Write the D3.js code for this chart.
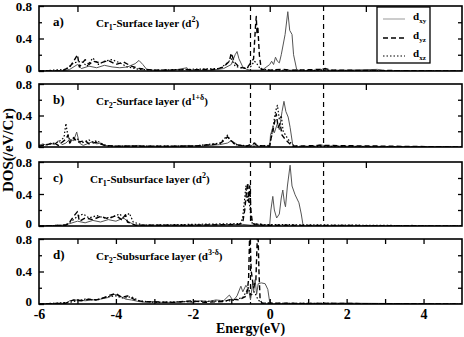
<!DOCTYPE html>
<html><head><meta charset="utf-8">
<script src="https://cdn.jsdelivr.net/npm/d3@7"></script>
<style>body{margin:0;background:#fff}svg{display:block}text{font-family:"Liberation Serif","Times New Roman",serif;font-weight:bold}</style>
</head><body>
<script>
// ---- data ----
const energyDomain = [-6, 5];
const dosDomain = [0, 0.8];
const xTickLabels = [-6, -4, -2, 0, 2, 4];
const yTickLabels = [0, 0.4, 0.8];
const refLines = [-0.5, 1.4];
const panelLetters = ["a)", "b)", "c)", "d)"];
const panelTitles = [
  ["Cr", "1", "-Surface layer (d", "2", ")"],
  ["Cr", "2", "-Surface layer (d", "1+δ", ")"],
  ["Cr", "1", "-Subsurface layer (d", "2", ")"],
  ["Cr", "2", "-Subsurface layer (d", "3-δ", ")"]
];
const seriesNames = ["xy", "yz", "xz"];

const aXY = [[-6,0],[-5.4,0],[-5.2,0.02],[-5.0,0.08],[-4.9,0.03],[-4.7,0.06],[-4.5,0.04],[-4.3,0.07],[-4.1,0.05],[-3.9,0.04],[-3.7,0.05],[-3.5,0.09],[-3.4,0.13],[-3.3,0.08],[-3.2,0.02],[-3.0,0.01],[-2.5,0.01],[-2.15,0.04],[-2.1,0.01],[-1.5,0.01],[-1.2,0.03],[-1.0,0.08],[-0.9,0.2],[-0.85,0.24],[-0.8,0.15],[-0.7,0.05],[-0.6,0.02],[-0.5,0.01],[-0.2,0.01],[0.0,0.08],[0.05,0.12],[0.1,0.08],[0.15,0.17],[0.2,0.12],[0.25,0.1],[0.3,0.2],[0.4,0.45],[0.47,0.73],[0.52,0.5],[0.58,0.45],[0.62,0.2],[0.7,0.02],[0.8,0],[1.3,0.01],[1.4,0.03],[1.5,0.01],[2.0,0.01],[2.8,0.02],[3.0,0],[5,0]];
const aYZ = [[-6,0],[-5.4,0],[-5.2,0.05],[-5.1,0.12],[-5.0,0.2],[-4.95,0.05],[-4.8,0.14],[-4.7,0.08],[-4.6,0.12],[-4.4,0.1],[-4.2,0.13],[-4.0,0.08],[-3.8,0.11],[-3.6,0.06],[-3.4,0.03],[-3.0,0.01],[-1.4,0.02],[-1.2,0.05],[-1.05,0.12],[-1.0,0.22],[-0.95,0.15],[-0.9,0.1],[-0.8,0.05],[-0.6,0.03],[-0.42,0.15],[-0.37,0.55],[-0.35,0.67],[-0.33,0.45],[-0.31,0.55],[-0.27,0.2],[-0.22,0.02],[0,0.01],[0.3,0.02],[0.6,0.01],[1.3,0.02],[1.45,0.03],[1.6,0.01],[5,0]];
const aXZ = [[-6,0],[-5.3,0.02],[-5.1,0.1],[-4.9,0.12],[-4.75,0.06],[-4.6,0.16],[-4.45,0.08],[-4.3,0.12],[-4.1,0.14],[-3.9,0.1],[-3.7,0.05],[-3.4,0.02],[-3.0,0.01],[-1.3,0.03],[-1.1,0.1],[-1.0,0.15],[-0.9,0.06],[-0.7,0.03],[-0.5,0.05],[-0.4,0.12],[-0.35,0.1],[-0.25,0.03],[0,0.01],[5,0]];

const bXY = [[-6,0.02],[-5.9,0.04],[-5.8,0.02],[-5.7,0.05],[-5.6,0.03],[-5.5,0.08],[-5.4,0.03],[-5.3,0.05],[-5.2,0.1],[-5.1,0.08],[-5.02,0.19],[-4.95,0.05],[-4.85,0.02],[-4.7,0.05],[-4.6,0.07],[-4.5,0.04],[-4.4,0.05],[-4.3,0.02],[-4,0.01],[-3.4,0.02],[-3.3,0.01],[-2.5,0.01],[-2.1,0.02],[-1.8,0.01],[-1.3,0.03],[-1.1,0.05],[-1,0.08],[-0.9,0.05],[-0.8,0.02],[-0.5,0.01],[-0.37,0.05],[-0.3,0.01],[0,0.01],[0.02,0.15],[0.08,0.25],[0.12,0.18],[0.2,0.3],[0.25,0.22],[0.32,0.45],[0.37,0.58],[0.42,0.45],[0.48,0.38],[0.53,0.25],[0.6,0.02],[0.7,0],[1.2,0.01],[1.3,0.03],[1.4,0.02],[1.6,0.01],[2.2,0.01],[5,0]];
const bYZ = [[-6,0.01],[-5.8,0.03],[-5.6,0.05],[-5.5,0.02],[-5.4,0.06],[-5.3,0.1],[-5.25,0.15],[-5.2,0.05],[-5.1,0.12],[-5,0.06],[-4.8,0.08],[-4.7,0.04],[-4.5,0.06],[-4.3,0.02],[-4,0.01],[-2,0.01],[-1.3,0.04],[-1.15,0.1],[-1.1,0.13],[-1.0,0.08],[-0.9,0.03],[-0.6,0.01],[-0.4,0.05],[-0.35,0.02],[0,0.01],[0.03,0.1],[0.08,0.2],[0.12,0.3],[0.17,0.42],[0.22,0.25],[0.27,0.3],[0.32,0.15],[0.4,0.1],[0.5,0.05],[0.6,0.01],[1.3,0.02],[5,0]];
const bXZ = [[-6,0.02],[-5.7,0.04],[-5.5,0.06],[-5.35,0.12],[-5.3,0.3],[-5.27,0.2],[-5.2,0.08],[-5.0,0.1],[-4.9,0.05],[-4.7,0.09],[-4.6,0.06],[-4.5,0.08],[-4.35,0.04],[-4.2,0.01],[-2,0.01],[-1.3,0.05],[-1.15,0.12],[-1.1,0.15],[-1.05,0.1],[-0.9,0.03],[-0.5,0.01],[0,0.02],[0.05,0.15],[0.1,0.3],[0.15,0.45],[0.2,0.53],[0.25,0.35],[0.3,0.4],[0.35,0.2],[0.45,0.12],[0.55,0.05],[0.65,0.01],[5,0]];

const cXY = [[-6,0],[-5.4,0.01],[-5.2,0.03],[-5.0,0.06],[-4.8,0.04],[-4.6,0.07],[-4.4,0.05],[-4.2,0.08],[-4.0,0.06],[-3.8,0.1],[-3.7,0.06],[-3.5,0.01],[-3,0.01],[-2,0.01],[-0.7,0.02],[-0.5,0.01],[-0.1,0.01],[0,0.02],[0.03,0.2],[0.08,0.37],[0.12,0.2],[0.18,0.1],[0.25,0.15],[0.3,0.35],[0.34,0.45],[0.38,0.3],[0.41,0.24],[0.46,0.5],[0.53,0.76],[0.58,0.5],[0.66,0.39],[0.76,0.29],[0.82,0.15],[0.87,0],[3.6,0],[3.7,0.01],[3.8,0],[5,0]];
const cYZ = [[-6,0],[-5.3,0.01],[-5.2,0.05],[-5.1,0.12],[-5.0,0.18],[-4.95,0.06],[-4.8,0.1],[-4.6,0.08],[-4.4,0.12],[-4.2,0.09],[-4.0,0.13],[-3.85,0.08],[-3.75,0.14],[-3.7,0.05],[-3.5,0.01],[-2,0.01],[-0.8,0.02],[-0.7,0.05],[-0.65,0.2],[-0.6,0.45],[-0.57,0.54],[-0.55,0.3],[-0.52,0.5],[-0.49,0.2],[-0.45,0.03],[-0.35,0.02],[-0.3,0.04],[-0.2,0.01],[5,0]];
const cXZ = [[-6,0],[-5.3,0.01],[-5.1,0.08],[-5.0,0.12],[-4.85,0.15],[-4.7,0.1],[-4.5,0.13],[-4.3,0.1],[-4.1,0.11],[-3.9,0.15],[-3.8,0.1],[-3.65,0.16],[-3.55,0.05],[-3.3,0.01],[-0.75,0.03],[-0.7,0.12],[-0.65,0.35],[-0.62,0.5],[-0.58,0.3],[-0.55,0.42],[-0.5,0.15],[-0.45,0.02],[5,0]];

const dXY = [[-6,0],[-5.3,0.01],[-5.2,0.04],[-5.0,0.05],[-4.8,0.04],[-4.6,0.05],[-4.4,0.06],[-4.2,0.08],[-4.05,0.12],[-3.9,0.1],[-3.75,0.06],[-3.6,0.05],[-3.4,0.03],[-3.2,0.02],[-3.0,0.03],[-2.8,0.02],[-2.5,0.02],[-2.2,0.03],[-2.0,0.02],[-1.8,0.04],[-1.6,0.03],[-1.4,0.05],[-1.2,0.04],[-1.05,0.11],[-0.95,0.04],[-0.85,0.1],[-0.75,0.22],[-0.7,0.15],[-0.62,0.23],[-0.55,0.18],[-0.5,0.05],[-0.45,0.25],[-0.42,0.15],[-0.38,0.3],[-0.34,0.12],[-0.3,0.25],[-0.22,0.26],[-0.12,0.25],[-0.05,0.18],[0,0.02],[0.1,0],[1.6,0.01],[2,0.01],[5,0]];
const dYZ = [[-6,0],[-5.3,0.01],[-5.1,0.05],[-4.9,0.04],[-4.7,0.06],[-4.5,0.05],[-4.3,0.08],[-4.15,0.11],[-4.0,0.13],[-3.85,0.08],[-3.7,0.1],[-3.5,0.05],[-3.3,0.03],[-2.5,0.02],[-2.0,0.04],[-1.7,0.02],[-1.2,0.03],[-1.0,0.06],[-0.8,0.05],[-0.6,0.1],[-0.55,0.3],[-0.52,0.9],[-0.48,0.4],[-0.42,0.2],[-0.36,0.3],[-0.31,1.0],[-0.28,0.4],[-0.25,0.05],[-0.2,0.01],[5,0]];
const dXZ = [[-6,0],[-5.2,0.02],[-5.0,0.04],[-4.8,0.06],[-4.5,0.05],[-4.2,0.09],[-4.0,0.1],[-3.8,0.07],[-3.6,0.09],[-3.4,0.04],[-3,0.02],[-1,0.04],[-0.7,0.08],[-0.55,0.2],[-0.5,0.1],[-0.4,0.15],[-0.3,0.05],[-0.2,0.01],[5,0]];

const panelData = [[aXY, aYZ, aXZ], [bXY, bYZ, bXZ], [cXY, cYZ, cXZ], [dXY, dYZ, dXZ]];

// ---- layout / style ----
const W = 464, H = 337;
const left = 39, right = 462;
const panelBounds = [[6, 71], [84, 147], [162, 226], [239, 304]];
const styles = [
  {stroke: "#555", width: 1, dash: null},
  {stroke: "#000", width: 1.4, dash: "5,3"},
  {stroke: "#000", width: 1.2, dash: "1.5,2"}
];

const svg = d3.select("body").append("svg").attr("width", W).attr("height", H);
const x = d3.scaleLinear().domain(energyDomain).range([left, right]);

panelBounds.forEach(([top, bottom], i) => {
  const y = d3.scaleLinear().domain(dosDomain).range([bottom, top]);
  const g = svg.append("g");
  const clipId = "clip" + i;
  svg.append("clipPath").attr("id", clipId).append("rect")
    .attr("x", left).attr("y", top).attr("width", right - left).attr("height", bottom - top);

  // reference lines
  g.selectAll("line.ref").data(refLines).join("line")
    .attr("x1", d => x(d)).attr("x2", d => x(d)).attr("y1", top).attr("y2", bottom)
    .attr("stroke", "#000").attr("stroke-width", 1.2).attr("stroke-dasharray", "5,4");

  // data
  const line = d3.line().x(d => x(d[0])).y(d => y(d[1]));
  const dg = g.append("g").attr("clip-path", `url(#${clipId})`);
  panelData[i].forEach((s, k) => {
    dg.append("path").datum(s).attr("d", line).attr("fill", "none")
      .attr("stroke", styles[k].stroke).attr("stroke-width", styles[k].width)
      .attr("stroke-dasharray", styles[k].dash).attr("stroke-linejoin", "round");
  });

  // y axes (left labeled, right ticks only)
  const yl = d3.axisLeft(y).tickValues(yTickLabels).tickSize(-5).tickPadding(7)
    .tickFormat(d => d === 0 ? "0" : d3.format(".1f")(d));
  const yAx = g.append("g").attr("transform", `translate(${left},0)`).call(yl);
  yAx.select(".domain").remove();
  yAx.selectAll("text").attr("font-size", 13).attr("fill", "#000")
    .style("font-family", "'Liberation Serif',serif").style("font-weight", "bold")
    .attr("dy", d => d === 0 ? "0.1em" : "0.32em");
  yAx.selectAll("line").attr("stroke-width", 1.3);
  const ym = d3.axisLeft(y).tickValues([0.2, 0.6]).tickSize(-3).tickFormat("");
  const yMn = g.append("g").attr("transform", `translate(${left},0)`).call(ym);
  yMn.select(".domain").remove();
  yMn.selectAll("line").attr("stroke-width", 1.3);
  const yr = d3.axisRight(y).tickValues([0.2, 0.4, 0.6]).tickSize(-4).tickFormat("");
  const yR = g.append("g").attr("transform", `translate(${right},0)`).call(yr);
  yR.select(".domain").remove();
  yR.selectAll("line").attr("stroke-width", 1.3);

  // top ticks
  const topTicks = i < 3 ? [-5, -2.5, 0, 2.5] : d3.range(-5, 5, 1);
  const xt = d3.axisTop(x).tickValues(topTicks).tickSize(i < 3 ? -6 : -5).tickFormat("");
  const xT = g.append("g").attr("transform", `translate(0,${top})`).call(xt);
  xT.select(".domain").remove();
  xT.selectAll("line").attr("stroke-width", 1.3);

  if (i === 3) {
    const xbMinor = d3.axisBottom(x).tickValues(d3.range(-5, 5, 1)).tickSize(-5).tickFormat("");
    const xBm = g.append("g").attr("transform", `translate(0,${bottom})`).call(xbMinor);
    xBm.select(".domain").remove();
    xBm.selectAll("line").attr("stroke-width", 1.3);
    const xb = d3.axisBottom(x).tickValues(xTickLabels).tickSize(0).tickPadding(5)
      .tickFormat(d3.format("d"));
    const xB = g.append("g").attr("transform", `translate(0,${bottom})`).call(xb);
    xB.select(".domain").remove();
    xB.selectAll("text").attr("font-size", 14).attr("fill", "#000")
      .style("font-family", "'Liberation Serif',serif").style("font-weight", "bold")
      .text(d => d < 0 ? "-" + Math.abs(d) : d);
  }

  // frame
  g.append("rect").attr("x", left).attr("y", top).attr("width", right - left).attr("height", bottom - top)
    .attr("fill", "none").attr("stroke", "#000").attr("stroke-width", 1.6);

  // panel letter and title
  g.append("text").attr("x", 53).attr("y", top + 20).attr("font-size", 13).text(panelLetters[i]);
  const t = panelTitles[i];
  const tt = g.append("text").attr("x", i === 2 ? 90 : 96).attr("y", top + 21).attr("font-size", 11);
  tt.append("tspan").text(t[0]);
  tt.append("tspan").attr("dy", 3).attr("font-size", 8).text(t[1]);
  tt.append("tspan").attr("dy", -3).text(t[2]);
  tt.append("tspan").attr("dy", -5).attr("font-size", 8).text(t[3]);
  tt.append("tspan").attr("dy", 5).text(t[4]);
});

// legend
const lg = svg.append("g");
lg.append("rect").attr("x", 377).attr("y", 7).attr("width", 53).attr("height", 56)
  .attr("fill", "#fff").attr("stroke", "#000").attr("stroke-width", 1.3);
const legendY = [19, 38, 56];
seriesNames.forEach((n, k) => {
  lg.append("line").attr("x1", 383).attr("x2", 405).attr("y1", legendY[k]).attr("y2", legendY[k])
    .attr("stroke", k === 0 ? "#999" : "#000").attr("stroke-width", styles[k].width)
    .attr("stroke-dasharray", styles[k].dash);
  const tx = lg.append("text").attr("x", 413).attr("y", legendY[k] + 1).attr("font-size", 11);
  tx.append("tspan").text("d");
  tx.append("tspan").attr("dy", 3).attr("font-size", 7).text(n);
});

// axis titles
svg.append("text").attr("x", (left + right) / 2).attr("y", 333).attr("text-anchor", "middle")
  .attr("font-size", 14).text("Energy(eV)");
svg.append("text").attr("transform", "translate(13,150) rotate(-90)").attr("text-anchor", "middle")
  .attr("font-size", 15).text("DOS(/eV/Cr)");
</script>
</body></html>
